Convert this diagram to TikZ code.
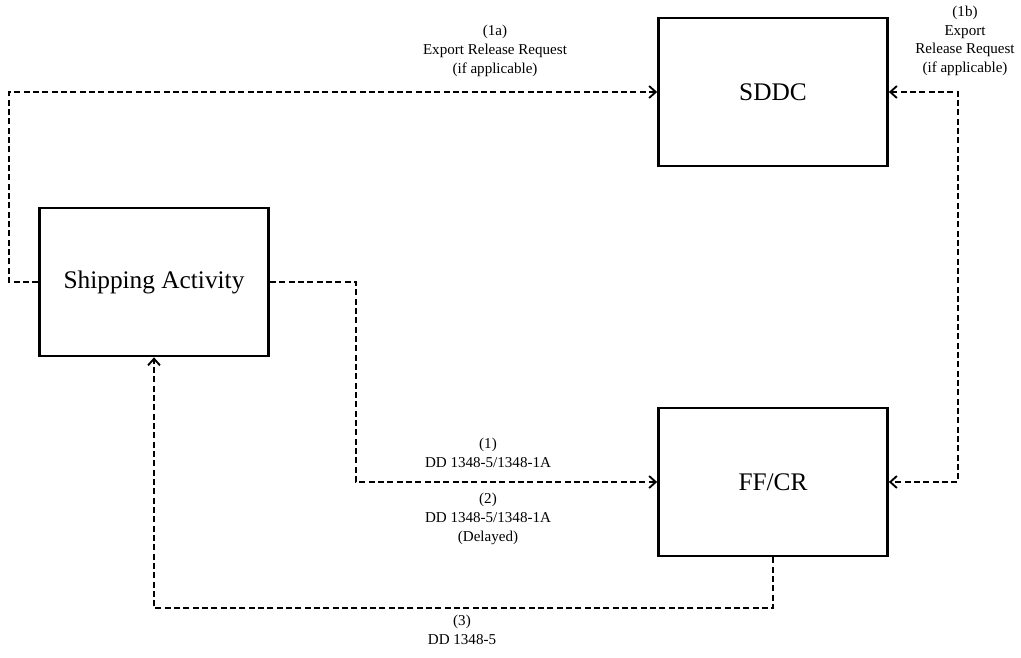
\documentclass[tikz,border=0pt]{standalone}
\usepackage{fontspec}
\setmainfont{Liberation Serif}
\usepackage{tikz}
\usetikzlibrary{arrows.meta,positioning,calc}

\begin{document}
\begin{tikzpicture}[
    x=0.75pt, y=-0.75pt,
    block/.style={rectangle, draw=black, line width=2pt, minimum width=171.75pt, minimum height=111pt, inner sep=0pt, font=\fontsize{19}{22}\selectfont},
    label/.style={align=center, inner sep=0pt, font=\fontsize{11.3}{14}\selectfont},
    arrow/.style={->, >={Straight Barb[length=5pt,width=9pt,line width=1.4pt]}, line width=1.3pt, dash pattern=on 4.5pt off 2.5pt}
]
\useasboundingbox (0,0) rectangle (1021,657);

% Blocks
\node[block] (ship) at (154,282) {Shipping Activity};
\node[block] (sddc) at (773,92) {SDDC};
\node[block] (ffcr) at (773,482) {FF/CR};

% Arrows
\draw[arrow] (ship.west) -- ++(-29,0) |- (sddc.west);
\draw[arrow] (ship.east) -- ++(86,0) |- (ffcr.west);
\draw[arrow, <->] (sddc.east) -- ++(69,0) |- (ffcr.east);
\draw[arrow] (ffcr.south) -- ++(0,51) -| (ship.south);

% Labels
\node[label] (l1a) at (495,51) {(1a)\\Export Release Request\\(if applicable)};
\node[label] (l1b) at (965,41) {(1b)\\Export\\Release Request\\(if applicable)};
\node[label] (l1) at (488,453) {(1)\\DD 1348-5/1348-1A};
\node[label] (l2) at (488,519) {(2)\\DD 1348-5/1348-1A\\(Delayed)};
\node[label] (l3) at (462,630) {(3)\\DD 1348-5};

\end{tikzpicture}
\end{document}
